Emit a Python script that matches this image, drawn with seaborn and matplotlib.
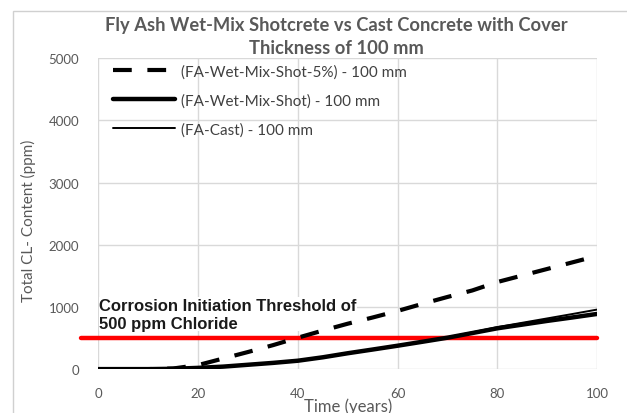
import matplotlib
matplotlib.use("Agg")
import matplotlib.pyplot as plt
import seaborn as sns
import pandas as pd
from matplotlib.patches import Rectangle

# ---- data ----
time_years = [0, 5, 10, 15, 20, 25, 30, 35, 40, 45, 50, 55, 60, 65, 70, 75, 80, 85, 90, 95, 100]
fa_wet_mix_shot_5 = [0, 0, 0, 10, 65, 170, 275, 385, 505, 620, 730, 830, 935, 1050, 1160, 1265, 1400, 1505, 1610, 1715, 1820]
fa_wet_mix_shot = [0, 0, 0, 5, 20, 40, 70, 100, 135, 190, 255, 315, 376, 440, 505, 580, 656, 715, 775, 830, 887]
fa_cast = [0, 0, 0, 5, 20, 40, 70, 100, 135, 190, 255, 315, 378, 445, 512, 592, 675, 745, 815, 885, 957]
series_names = ["(FA-Wet-Mix-Shot-5%) - 100 mm", "(FA-Wet-Mix-Shot) - 100 mm", "(FA-Cast) - 100 mm"]
threshold_x = [-3.5, 100]
threshold_value = 500
x_ticks = [0, 20, 40, 60, 80, 100]
y_ticks = [0, 1000, 2000, 3000, 4000, 5000]

sns.set_theme(style="white")
plt.rcParams['font.family'] = ['Lato', 'DejaVu Sans']

fig = plt.figure(figsize=(6.27, 4.14), dpi=100)
ax = fig.add_axes([0.157, 0.106, 0.795, 0.751])

# outer chart border
fig.patches.append(Rectangle((13 / 627, -0.1), 1.2, 1 - 12 / 414 + 0.1, transform=fig.transFigure,
                             fill=False, edgecolor="#d0d0d0", linewidth=1.0))

df = pd.DataFrame({"t": time_years, "a": fa_wet_mix_shot_5, "b": fa_wet_mix_shot, "c": fa_cast})

sns.lineplot(data=df, x="t", y="c", ax=ax, color="black", linewidth=1.4, label=series_names[2], zorder=4)
sns.lineplot(data=df, x="t", y="b", ax=ax, color="black", linewidth=3.2, label=series_names[1], zorder=4)
sns.lineplot(data=df, x="t", y="a", ax=ax, color="black", linewidth=3.0, label=series_names[0], zorder=4)
ax.lines[-1].set_dashes([4.5, 3.75])

ax.plot(threshold_x, [threshold_value, threshold_value], color="#ff0000", linewidth=3.2, clip_on=False, zorder=3)

ax.set_xlim(0, 100)
ax.set_ylim(0, 5000)
ax.set_xticks(x_ticks)
ax.set_yticks(y_ticks)
ax.grid(True, color="#d9d9d9", linewidth=1.0)
ax.set_axisbelow(True)
for s in ax.spines.values():
    s.set_visible(False)
ax.tick_params(axis="both", length=0, labelsize=9.5, labelcolor="#595959")
ax.tick_params(axis="y", pad=14)
ax.tick_params(axis="x", pad=13)

ax.set_xlabel("Time (years)", fontsize=12, color="#595959")
ax.xaxis.set_label_coords(0.5, -0.092)
ax.set_ylabel("Total CL- Content (ppm)", fontsize=11, color="#595959")
ax.yaxis.set_label_coords(-0.125, 0.48)

fig.text(0.536, 0.911, "Fly Ash Wet-Mix Shotcrete vs Cast Concrete with Cover\nThickness of 100 mm",
         ha="center", va="center", fontsize=13.2, fontweight="bold", color="#595959", linespacing=1.45)

ax.text(0.2, 1150, "Corrosion Initiation Threshold of\n500 ppm Chloride", ha="left", va="top",
        fontsize=12, fontweight="bold", family="Liberation Sans", color="#1a1a1a", linespacing=1.25,
        bbox=dict(facecolor="white", edgecolor="none", pad=0.5), zorder=2.5)

handles, labels = ax.get_legend_handles_labels()
order = [2, 1, 0]
leg = ax.legend([handles[i] for i in order], [labels[i] for i in order], loc="upper left",
                frameon=False, fontsize=11, handlelength=4.1, handletextpad=0.35,
                labelspacing=0.95, borderaxespad=0.2, bbox_to_anchor=(0.01, 1.01))
for t in leg.get_texts():
    t.set_color("#404040")

fig.savefig("out.png", dpi=100, facecolor="white")
